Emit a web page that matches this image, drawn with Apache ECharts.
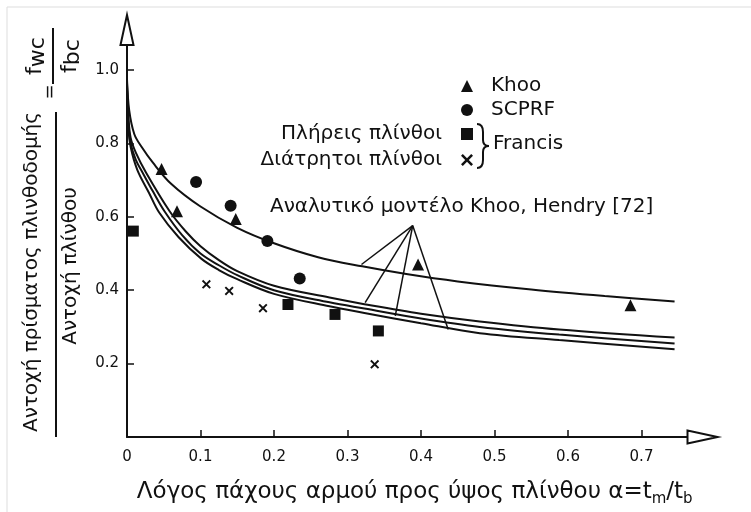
<!DOCTYPE html>
<html><head><meta charset="utf-8">
<script src="https://cdn.jsdelivr.net/npm/echarts@6/dist/echarts.min.js"></script>
<style>html,body{margin:0;padding:0;background:#fff}#c{width:751px;height:512px}</style>
</head><body><div id="c"></div>
<script>
// ---- tick values ----
const xTickValues = [0.1, 0.2, 0.3, 0.4, 0.5, 0.6, 0.7];
const xLabelValues = [0, 0.1, 0.2, 0.3, 0.4, 0.5, 0.6, 0.7];
const yTickValues = [0.2, 0.4, 0.6, 0.8, 1.0];

// ---- measured points ----
const khoo = [[0.047, 0.730], [0.068, 0.615], [0.148, 0.594], [0.396, 0.470], [0.685, 0.359]];
const scprf = [[0.094, 0.695], [0.141, 0.630], [0.191, 0.534], [0.235, 0.432]];
const francisSolid = [[0.0086, 0.561], [0.219, 0.361], [0.283, 0.334], [0.342, 0.289]];
const francisPerforated = [[0.108, 0.416], [0.139, 0.398], [0.185, 0.351], [0.337, 0.198]];

// ---- analytical model curves (Khoo, Hendry) ----
const modelTop = [[0, 0.975], [0.003, 0.89], [0.01, 0.825], [0.02, 0.79], [0.035, 0.748], [0.06, 0.69], [0.1, 0.628], [0.15, 0.57], [0.2, 0.528], [0.26, 0.49], [0.32, 0.465], [0.38, 0.444], [0.45, 0.424], [0.55, 0.402], [0.65, 0.384], [0.745, 0.369]];
const modelL1 = [[0, 0.965], [0.002, 0.87], [0.005, 0.815], [0.012, 0.775], [0.026, 0.72], [0.058, 0.615], [0.08, 0.56], [0.1, 0.52], [0.125, 0.482], [0.15, 0.452], [0.2, 0.412], [0.2755, 0.38], [0.323, 0.362], [0.4, 0.336], [0.48, 0.315], [0.588, 0.293], [0.745, 0.271]];
const modelL2 = [[0, 0.96], [0.002, 0.85], [0.005, 0.80], [0.012, 0.755], [0.02, 0.725], [0.035, 0.67], [0.051, 0.615], [0.075, 0.55], [0.1, 0.5], [0.125, 0.468], [0.15, 0.441], [0.2, 0.4], [0.2755, 0.367], [0.323, 0.35], [0.4, 0.323], [0.48, 0.3], [0.588, 0.279], [0.745, 0.255]];
const modelL3 = [[0, 0.955], [0.002, 0.84], [0.005, 0.79], [0.014, 0.728], [0.03, 0.665], [0.044, 0.611], [0.07, 0.545], [0.101, 0.486], [0.125, 0.455], [0.15, 0.43], [0.2, 0.39], [0.2755, 0.356], [0.323, 0.338], [0.4, 0.31], [0.48, 0.283], [0.588, 0.264], [0.745, 0.239]];

// ---- annotation pointer lines ----
const pointerApex = [0.3887, 0.576];
const pointerEnds = [[0.319, 0.470], [0.324, 0.366], [0.365, 0.330], [0.437, 0.293]];

const INK = '#111';
const FONT = 'DejaVu Sans';
const crossPath = 'path://M0,1.5 L1.5,0 L5,3.5 L8.5,0 L10,1.5 L6.5,5 L10,8.5 L8.5,10 L5,6.5 L1.5,10 L0,8.5 L3.5,5 Z';

const chart = echarts.init(document.getElementById('c'), null, {renderer: 'canvas'});

function curve(data) {
  return {type: 'line', data: data, smooth: 0.35, showSymbol: false, silent: true,
    lineStyle: {color: INK, width: 2}, z: 2};
}

const subRich = {
  s: {fontSize: 15, fontFamily: FONT, lineHeight: 15, verticalAlign: 'bottom', color: INK}
};
const fracRich = {
  s: {fontSize: 22, fontFamily: FONT, lineHeight: 22, verticalAlign: 'bottom', color: INK}
};
const braceStyle = {stroke: INK, lineWidth: 2, fill: null};
const legendText = {fontSize: 20, fontFamily: FONT, color: INK};

chart.setOption({
  animation: false,
  backgroundColor: '#fff',
  grid: {left: 127, right: 48.5, top: 30, bottom: 74, containLabel: false},
  xAxis: {
    type: 'value', min: 0, max: 0.783,
    splitLine: {show: false},
    axisLine: {lineStyle: {color: INK, width: 2}, symbol: ['none', 'emptyTriangle'], symbolSize: [13, 30]},
    axisTick: {inside: true, length: 7, lineStyle: {color: INK, width: 1.5}, customValues: xTickValues},
    axisLabel: {customValues: xLabelValues, margin: 13, fontSize: 15, fontFamily: FONT, color: INK,
      formatter: v => v === 0 ? '0' : v.toFixed(1)},
    name: 'Λόγος πάχους αρμού προς ύψος πλίνθου α=t{s|m}/t{s|b}',
    nameLocation: 'middle', nameGap: 41,
    nameTextStyle: {fontSize: 23, fontFamily: FONT, color: INK, lineHeight: 29, rich: subRich}
  },
  yAxis: {
    type: 'value', min: 0, max: 1.109,
    splitLine: {show: false},
    axisLine: {lineStyle: {color: INK, width: 2}, symbol: ['none', 'emptyTriangle'], symbolSize: [13, 30]},
    axisTick: {inside: true, length: 7, lineStyle: {color: INK, width: 1.5}, customValues: yTickValues},
    axisLabel: {customValues: yTickValues, margin: 8, fontSize: 15, fontFamily: FONT, color: INK,
      formatter: v => v.toFixed(1)}
  },
  legend: [
    {orient: 'vertical', left: 461, top: 76, padding: 0, itemWidth: 12, itemHeight: 12, itemGap: 4,
      data: ['Khoo', 'SCPRF'], selectedMode: false,
      textStyle: Object.assign({padding: [0, 0, 0, 13]}, legendText)},
    {right: 278, top: 124, padding: 0, itemWidth: 12, itemHeight: 12, align: 'right', data: ['Πλήρεις πλίνθοι'],
      selectedMode: false, textStyle: Object.assign({padding: [0, 14, 0, 0]}, legendText)},
    {right: 278, top: 150, padding: 0, itemWidth: 12, itemHeight: 12, align: 'right', data: ['Διάτρητοι πλίνθοι'],
      selectedMode: false, textStyle: Object.assign({padding: [0, 14, 0, 0]}, legendText)}
  ],
  graphic: [
    {type: 'line', shape: {x1: 7, y1: 7, x2: 751, y2: 7}, style: {stroke: '#ddd', lineWidth: 1}, silent: true},
    {type: 'line', shape: {x1: 7, y1: 7, x2: 7, y2: 512}, style: {stroke: '#ddd', lineWidth: 1}, silent: true},
    {type: 'text', x: 32, y: 272, rotation: Math.PI / 2,
      style: {text: 'Αντοχή πρίσματος πλινθοδομής', font: '20px ' + FONT, fill: INK, align: 'center', verticalAlign: 'middle'}},
    {type: 'line', shape: {x1: 56, y1: 437, x2: 56, y2: 112}, style: {stroke: INK, lineWidth: 2}},
    {type: 'text', x: 71, y: 266, rotation: Math.PI / 2,
      style: {text: 'Αντοχή πλίνθου', font: '20px ' + FONT, fill: INK, align: 'center', verticalAlign: 'middle'}},
    {type: 'text', x: 50, y: 92, rotation: Math.PI / 2,
      style: {text: '=', font: '18px ' + FONT, fill: INK, align: 'center', verticalAlign: 'middle'}},
    {type: 'text', x: 35, y: 56, rotation: Math.PI / 2,
      style: {text: 'f{s|wc}', font: '22px ' + FONT, fill: INK, align: 'center', verticalAlign: 'middle', lineHeight: 28, rich: fracRich}},
    {type: 'line', shape: {x1: 53, y1: 84, x2: 53, y2: 28}, style: {stroke: INK, lineWidth: 2}},
    {type: 'text', x: 70, y: 56, rotation: Math.PI / 2,
      style: {text: 'f{s|bc}', font: '22px ' + FONT, fill: INK, align: 'center', verticalAlign: 'middle', lineHeight: 28, rich: fracRich}},
    {type: 'bezierCurve', shape: {x1: 477, y1: 124, cpx1: 483, cpy1: 124, x2: 483, y2: 132}, style: braceStyle},
    {type: 'line', shape: {x1: 483, y1: 132, x2: 483, y2: 140}, style: braceStyle},
    {type: 'bezierCurve', shape: {x1: 483, y1: 140, cpx1: 483, cpy1: 146, x2: 489, y2: 146}, style: braceStyle},
    {type: 'bezierCurve', shape: {x1: 489, y1: 146, cpx1: 483, cpy1: 146, x2: 483, y2: 152}, style: braceStyle},
    {type: 'line', shape: {x1: 483, y1: 152, x2: 483, y2: 160}, style: braceStyle},
    {type: 'bezierCurve', shape: {x1: 483, y1: 160, cpx1: 483, cpy1: 168, x2: 477, y2: 168}, style: braceStyle},
    {type: 'text', x: 493, y: 144,
      style: {text: 'Francis', font: '20px ' + FONT, fill: INK, align: 'left', verticalAlign: 'middle'}},
    {type: 'text', x: 270, y: 207,
      style: {text: 'Αναλυτικό μοντέλο Khoo, Hendry [72]', font: '20px ' + FONT, fill: INK, align: 'left', verticalAlign: 'middle'}}
  ],
  series: [
    curve(modelTop), curve(modelL1), curve(modelL2), curve(modelL3),
    {type: 'lines', coordinateSystem: 'cartesian2d', silent: true, z: 3,
      lineStyle: {color: INK, width: 1.5, opacity: 1},
      data: pointerEnds.map(e => ({coords: [pointerApex, e]}))},
    {name: 'Khoo', type: 'scatter', data: khoo, symbol: 'triangle', symbolSize: 12, itemStyle: {color: INK, opacity: 1}, z: 4},
    {name: 'SCPRF', type: 'scatter', data: scprf, symbol: 'circle', symbolSize: 12, itemStyle: {color: INK, opacity: 1}, z: 4},
    {name: 'Πλήρεις πλίνθοι', type: 'scatter', data: francisSolid, symbol: 'rect', symbolSize: 11, itemStyle: {color: INK, opacity: 1}, z: 4},
    {name: 'Διάτρητοι πλίνθοι', type: 'scatter', data: francisPerforated, symbol: crossPath, symbolSize: 9, itemStyle: {color: INK, opacity: 1}, z: 4}
  ]
});
</script></body></html>
